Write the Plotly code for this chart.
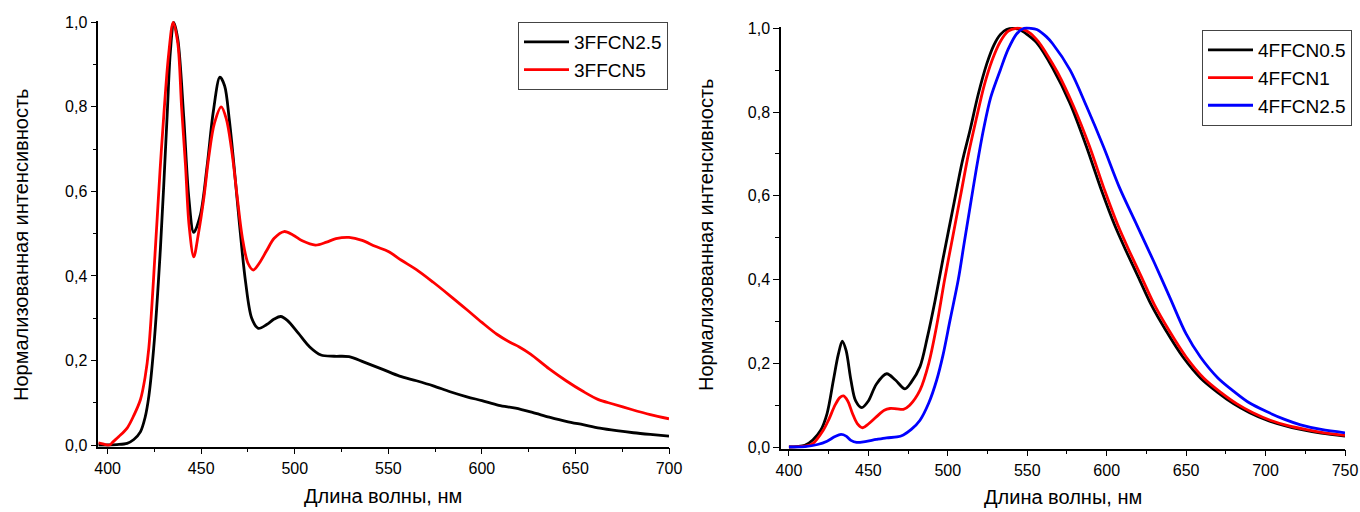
import plotly.graph_objects as go

# ---- Left panel: 3FFCN series ----
x_3ffcn25 = [395, 400, 405, 410.4, 414, 417.5, 420, 422, 424.6, 428.2, 431.8, 433.5, 435.3, 437.5, 440.6,
             443.4, 446, 449.6, 453.2, 456.5, 460, 462.5, 465, 467.5, 470.5, 473.7, 477, 480.5, 485, 489,
             492.5, 496, 502, 508, 514, 521, 529, 537, 547, 556, 565, 574, 583, 592, 600, 609, 618, 627,
             636, 645, 654, 663, 672, 681, 690, 700]
y_3ffcn25 = [0.0, 0.0, 0.001, 0.004, 0.013, 0.031, 0.065, 0.115, 0.229, 0.465, 0.78, 0.93, 1.0, 0.96, 0.78,
             0.584, 0.503, 0.545, 0.662, 0.79, 0.87, 0.85, 0.77, 0.662, 0.52, 0.386, 0.30, 0.276, 0.285, 0.298,
             0.304, 0.295, 0.264, 0.232, 0.213, 0.21, 0.209, 0.196, 0.179, 0.163, 0.152, 0.14, 0.126, 0.114,
             0.105, 0.094, 0.087, 0.077, 0.066, 0.056, 0.048, 0.04, 0.034, 0.029, 0.025, 0.021]

x_3ffcn5 = [395, 398, 401, 403, 406, 410.4, 414, 417.5, 420, 422, 425.5, 428, 430, 432.5, 435, 437.5, 439.5,
            441.6, 443.5, 446, 448.5, 451.4, 454, 457, 460.7, 463.5, 466.5, 469.3, 472, 475, 477.8, 481, 485,
            489, 494.3, 499, 504, 511, 517, 522, 529, 536, 543, 550, 557, 565, 574, 583, 592, 600, 608, 615,
            620, 626, 636, 645, 654, 662, 670, 680, 690, 700]
y_3ffcn5 = [0.005, 0.002, 0.0, 0.008, 0.02, 0.04, 0.07, 0.107, 0.16, 0.229, 0.465, 0.65, 0.78, 0.92, 1.0, 0.95,
            0.80, 0.662, 0.52, 0.445, 0.50, 0.584, 0.68, 0.76, 0.80, 0.77, 0.69, 0.584, 0.49, 0.43, 0.414, 0.43,
            0.46, 0.489, 0.505, 0.497, 0.483, 0.473, 0.48, 0.488, 0.491, 0.484, 0.47, 0.458, 0.437, 0.415,
            0.385, 0.353, 0.32, 0.29, 0.262, 0.243, 0.232, 0.215, 0.18, 0.152, 0.127, 0.108, 0.097, 0.084,
            0.072, 0.062]

# ---- Right panel: 4FFCN series ----
x_4ffcn05 = [400, 405, 410, 415, 420, 424, 428, 431, 433.6, 436, 439, 442, 445.8, 450, 455, 461.5, 467, 473,
             477, 482.5, 487, 492, 497, 503.5, 509, 514, 519, 524.5, 529, 533, 537, 541, 545, 550, 556,
             566, 577, 587, 597, 605, 612, 620, 628, 637, 648, 659, 670, 680, 690, 701, 712, 722, 735, 750]
y_4ffcn05 = [0.0, 0.001, 0.004, 0.017, 0.04, 0.08, 0.16, 0.22, 0.253, 0.23, 0.16, 0.11, 0.094, 0.11, 0.15,
             0.175, 0.16, 0.139, 0.155, 0.192, 0.26, 0.35, 0.45, 0.575, 0.68, 0.757, 0.84, 0.915, 0.96,
             0.985, 0.997, 1.0, 0.997, 0.985, 0.965, 0.905, 0.82, 0.72, 0.61, 0.53, 0.47, 0.405, 0.34, 0.28,
             0.215, 0.165, 0.13, 0.103, 0.082, 0.064, 0.051, 0.042, 0.033, 0.026]

x_4ffcn1 = [400, 410, 415, 421.6, 425, 429, 432, 434.3, 437, 440, 443, 446.4, 450, 455, 460, 463.6, 468, 472,
            476, 482.5, 488, 493, 498, 503, 508, 513, 518, 523, 528, 533, 538, 543, 547, 552, 557, 562, 569,
            579, 589, 599, 607, 614, 622, 630, 639, 650, 661, 672, 682, 692, 703, 714, 725, 737, 750]
y_4ffcn1 = [0.0, 0.002, 0.008, 0.04, 0.065, 0.10, 0.118, 0.122, 0.11, 0.08, 0.056, 0.046, 0.055, 0.072,
            0.088, 0.092, 0.091, 0.09, 0.10, 0.136, 0.20, 0.29, 0.40, 0.50, 0.60, 0.70, 0.785, 0.865, 0.925,
            0.968, 0.993, 1.0, 0.998, 0.988, 0.968, 0.94, 0.895, 0.815, 0.72, 0.61, 0.53, 0.47, 0.405, 0.34,
            0.28, 0.215, 0.165, 0.13, 0.103, 0.082, 0.064, 0.051, 0.042, 0.034, 0.028]

x_4ffcn25 = [400, 410, 418, 424, 429, 432.8, 436, 439, 442.6, 448, 455, 461.5, 468, 472, 477, 482.5, 488,
             493, 497, 501.4, 506.6, 510, 514, 518, 522.4, 527, 533, 538, 543.4, 548, 552, 556, 562, 566,
             577, 587.5, 598, 608, 619, 630, 640, 650, 659, 670, 680, 690, 701, 712, 722, 735, 750]
y_4ffcn25 = [0.0, 0.001, 0.006, 0.014, 0.025, 0.030, 0.026, 0.016, 0.011, 0.013, 0.018, 0.022, 0.024,
             0.029, 0.042, 0.064, 0.105, 0.16, 0.22, 0.303, 0.40, 0.48, 0.573, 0.665, 0.757, 0.835, 0.90,
             0.95, 0.987, 1.0, 1.0, 0.997, 0.98, 0.963, 0.90, 0.812, 0.717, 0.62, 0.53, 0.44, 0.355, 0.27,
             0.215, 0.165, 0.133, 0.105, 0.084, 0.066, 0.053, 0.042, 0.034]

x_title = "Длина волны, нм"
y_title = "Нормализованная интенсивность"

FONT = "Liberation Sans, Arial, sans-serif"
LW = 2.8

# Page margin is removed by the post_script below, so figure pixels equal window pixels.
W, H = 1360, 512


def px(p):
    return p / W


def py(p):
    return 1 - p / H


fig = go.Figure()

left = [("3FFCN2.5", x_3ffcn25, y_3ffcn25, "#000000"),
        ("3FFCN5", x_3ffcn5, y_3ffcn5, "#ff0000")]
right = [("4FFCN0.5", x_4ffcn05, y_4ffcn05, "#000000"),
         ("4FFCN1", x_4ffcn1, y_4ffcn1, "#ff0000"),
         ("4FFCN2.5", x_4ffcn25, y_4ffcn25, "#0000ff")]

for name, xs, ys, col in left:
    fig.add_trace(go.Scatter(x=xs, y=ys, name=name, mode="lines",
                             line=dict(color=col, width=LW, shape="spline", smoothing=0.9),
                             xaxis="x", yaxis="y", legend="legend"))
for name, xs, ys, col in right:
    fig.add_trace(go.Scatter(x=xs, y=ys, name=name, mode="lines",
                             line=dict(color=col, width=LW, shape="spline", smoothing=0.9),
                             xaxis="x2", yaxis="y2", legend="legend2"))


def axis_common():
    return dict(showline=True, linecolor="black", linewidth=1.5, ticks="outside",
                ticklen=6, tickwidth=1.2, tickcolor="black", showgrid=False, zeroline=False,
                tickfont=dict(family=FONT, size=16, color="black"), mirror=False)


def minor_x():
    return dict(ticks="outside", tick0=400, dtick=25, ticklen=4, tickcolor="black", tickwidth=1.2)


def minor_y():
    return dict(ticks="outside", tick0=0, dtick=0.1, ticklen=4, tickcolor="black", tickwidth=1.2)


xa = axis_common()
xa.update(range=[395, 700], domain=[px(98.3), px(669)], tick0=400, dtick=50, minor=minor_x(), anchor="y")
ya = axis_common()
ya.update(range=[-0.004, 1.004], domain=[py(446.7), py(20.6)], tick0=0, dtick=0.2, tickformat=".1f",
          minor=minor_y(), anchor="x")
xa2 = axis_common()
xa2.update(range=[395, 750], domain=[px(781), px(1345)], tick0=400, dtick=50, minor=minor_x(), anchor="y2")
ya2 = axis_common()
ya2.update(range=[-0.004, 1.004], domain=[py(448.7), py(26.6)], tick0=0, dtick=0.2, tickformat=".1f",
           minor=minor_y(), anchor="x2")

legend_style = dict(font=dict(family=FONT, size=19, color="black"), bgcolor="white",
                    bordercolor="#444444", borderwidth=1, xanchor="right", yanchor="top",
                    tracegroupgap=0, itemwidth=45)

ann_font = dict(family=FONT, size=20, color="black")
annotations = [
    dict(text=x_title, x=px(383), y=py(496), xref="paper", yref="paper", showarrow=False,
         xanchor="center", yanchor="middle", font=ann_font),
    dict(text=x_title, x=px(1063), y=py(497), xref="paper", yref="paper", showarrow=False,
         xanchor="center", yanchor="middle", font=ann_font),
    dict(text=y_title, x=px(21), y=py(245), xref="paper", yref="paper", showarrow=False,
         textangle=-90, xanchor="center", yanchor="middle", font=ann_font),
    dict(text=y_title, x=px(706), y=py(235), xref="paper", yref="paper", showarrow=False,
         textangle=-90, xanchor="center", yanchor="middle", font=ann_font),
]

fig.update_layout(
    width=W, height=H, margin=dict(l=0, r=0, t=0, b=0, autoexpand=False),
    paper_bgcolor="white", plot_bgcolor="white", separators=",.",
    font=dict(family=FONT, color="black"),
    xaxis=xa, yaxis=ya, xaxis2=xa2, yaxis2=ya2,
    legend=dict(x=px(668), y=py(22), **legend_style),
    legend2=dict(x=px(1352), y=py(30), **legend_style),
    annotations=annotations, showlegend=True,
)

fig.write_html(
    "out.html",
    config={"displayModeBar": False},
    post_script="document.body.style.margin='0';document.body.style.overflow='hidden';",
)
